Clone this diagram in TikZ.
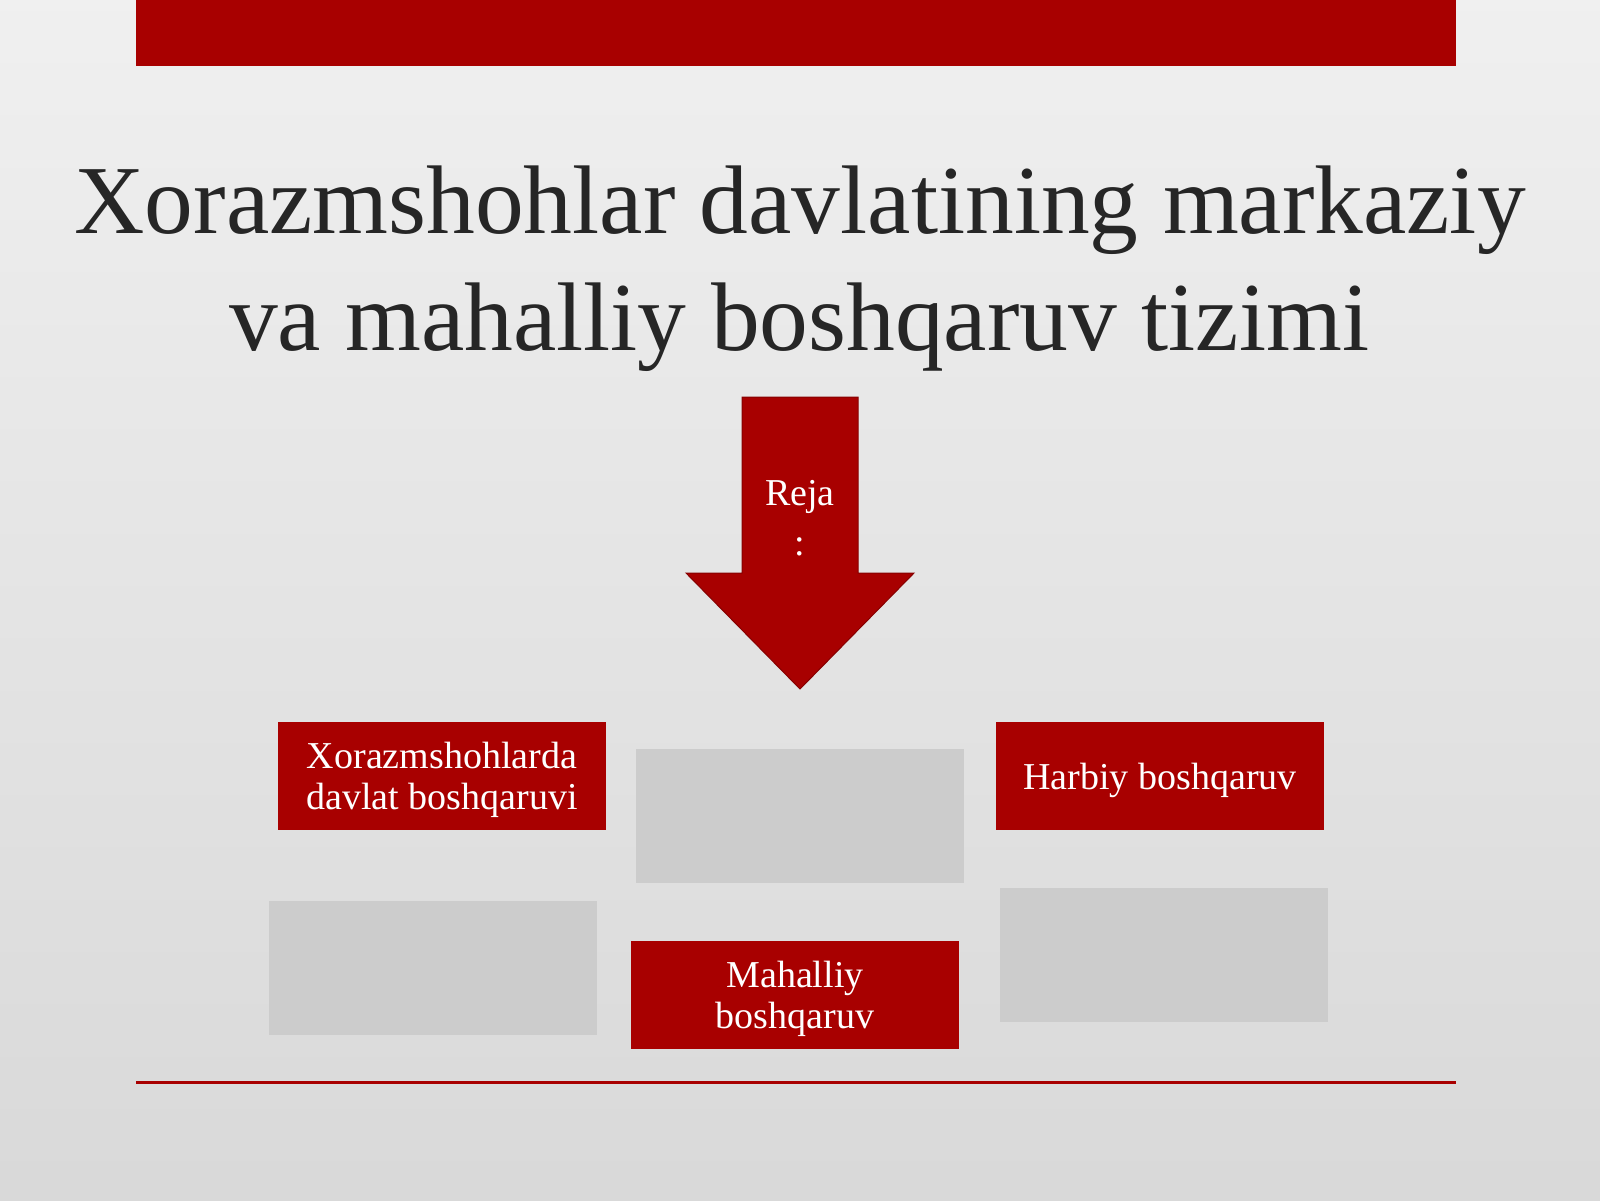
\documentclass[tikz,border=0pt]{standalone}
\usepackage{fontspec}
\setmainfont{Liberation Serif}
\usetikzlibrary{backgrounds}
\definecolor{rejared}{HTML}{A80000}
\definecolor{rejagrey}{HTML}{CCCCCC}
\definecolor{titlegrey}{HTML}{262626}

\begin{document}
\begin{tikzpicture}[
    x=1pt, y=-1pt,
    redbox/.style={rectangle, minimum width=328pt, minimum height=108pt, text centered, align=center, fill=rejared, text=white, inner sep=0pt, text depth=0pt, font=\fontsize{38}{41}\selectfont},
    greybox/.style={rectangle, minimum width=328pt, minimum height=134pt, fill=rejagrey, inner sep=0pt},
    titleline/.style={anchor=base, text=titlegrey, inner sep=0pt, font=\fontsize{97.5}{117}\selectfont}
]

% Frame
\useasboundingbox (0,0) rectangle (1600,1200);
\fill [rejared] (136,0) rectangle (1456,66);
\draw [rejared, line width=3pt] (136,1082) -- (1456,1082);

% Title
\node (titletop) [titleline] at (800,233) {Xorazmshohlar davlatining markaziy};
\node (titlebottom) [titleline] at (799,350) {va mahalliy boshqaruv tizimi};

% Arrow
\fill [rejared, draw=rejared!80!black, line width=1pt]
  (742,397) -- (858,397) -- (858,573) -- (914,573) -- (800,689) -- (686,573) -- (742,573) -- cycle;
\node (reja) [text=white, align=center, text depth=0pt, font=\fontsize{38}{50}\selectfont] at (800,518) {Reja\\:};

% Boxes
\node (davlat) [redbox] at (442,776) {Xorazmshohlarda\\davlat boshqaruvi};
\node (midgrey) [greybox] at (800,816) {};
\node (harbiy) [redbox] at (1160,776) {Harbiy boshqaruv};
\node (leftgrey) [greybox] at (433,968) {};
\node (mahalliy) [redbox] at (795,995) {Mahalliy\\boshqaruv};
\node (rightgrey) [greybox] at (1164,955) {};

\begin{scope}[on background layer]
\shade [top color=black!6, bottom color=black!15] (0,0) rectangle (1600,1200);
\end{scope}

\end{tikzpicture}
\end{document}
